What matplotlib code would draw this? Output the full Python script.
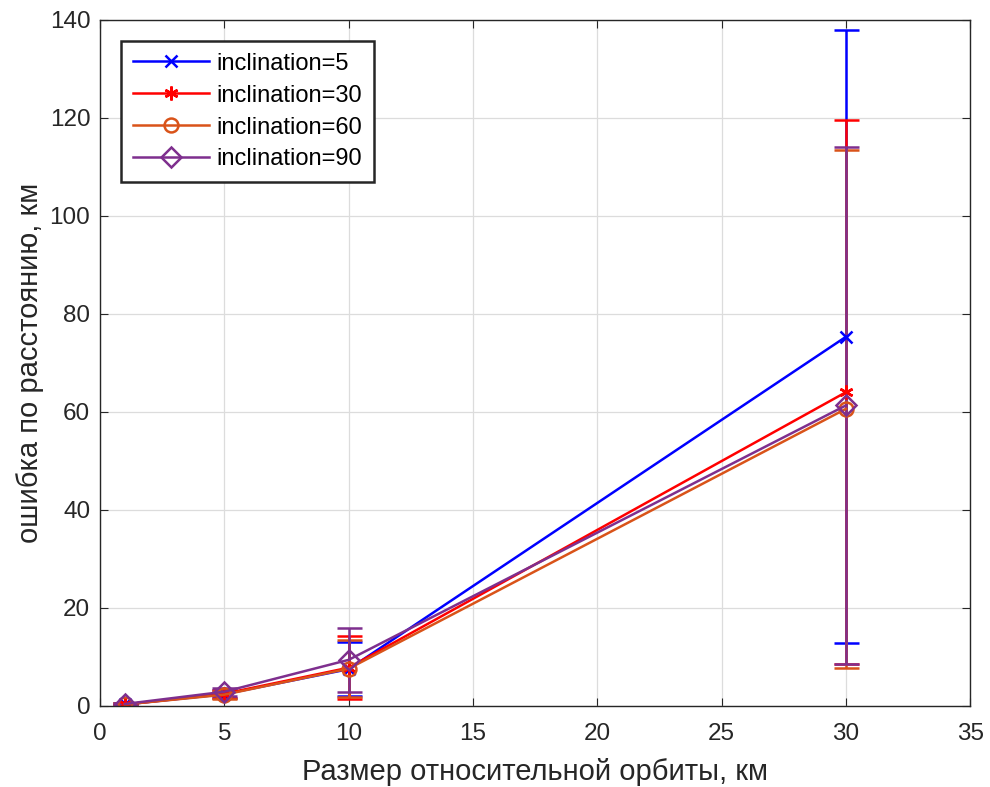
import numpy as np
import matplotlib.pyplot as plt
from matplotlib.lines import Line2D

plt.rcParams['font.family'] = ['Liberation Sans', 'DejaVu Sans']

# orbit size, km
sizes = [1, 5, 10, 30]

labels = ['inclination=5', 'inclination=30', 'inclination=60', 'inclination=90']
colors = ['#0000ff', '#ff0000', '#d95319', '#7e2f8e']
markers = ['x', (6, 2, 0), 'o', 'D']

# mean range error, km
mean_5 = [0.3, 2.4, 7.5, 75.3]
mean_30 = [0.3, 2.5, 7.8, 64.0]
mean_60 = [0.3, 2.3, 7.6, 60.6]
mean_90 = [0.4, 2.9, 9.4, 61.3]

# error bar half-width, km
err_5 = [0.2, 0.8, 5.5, 62.5]
err_30 = [0.2, 0.8, 6.4, 55.5]
err_60 = [0.2, 0.8, 5.8, 52.9]
err_90 = [0.2, 0.8, 6.6, 52.8]

means = [mean_5, mean_30, mean_60, mean_90]
errs = [err_5, err_30, err_60, err_90]

fig = plt.figure(figsize=(9.9, 7.87), dpi=100)
ax = fig.add_axes([0.101, 0.103, 0.879, 0.872])

handles = []
for m, e, c, mk, lab in zip(means, errs, colors, markers, labels):
    hollow = mk in ('o', 'D')
    ms = 10 if mk != 'x' else 9
    ax.errorbar(sizes, m, yerr=e, color=c, marker=mk, lw=1.8,
                capsize=9, capthick=1.8, elinewidth=1.8, markersize=ms,
                markerfacecolor='none' if hollow else c,
                markeredgewidth=1.8)
    handles.append(Line2D([], [], color=c, marker=mk, lw=1.8, markersize=ms,
                          markerfacecolor='none' if hollow else c,
                          markeredgewidth=1.8, label=lab))

ax.set_xlim(0, 35)
ax.set_ylim(0, 140)
ax.set_xticks(np.arange(0, 36, 5))
ax.set_yticks(np.arange(0, 141, 20))
ax.grid(True, color='#dcdcdc', lw=0.9)
ax.set_axisbelow(True)
ax.tick_params(direction='in', labelsize=17.5, length=6, colors='#262626',
               top=True, right=True)
ax.tick_params(axis='x', pad=12)
ax.tick_params(axis='y', pad=7)
for s in ax.spines.values():
    s.set_color('#262626')
    s.set_linewidth(1.0)

ax.set_xlabel('Размер относительной орбиты, км', fontsize=21, color='#262626',
              labelpad=10)
ax.set_ylabel('ошибка по расстоянию, км', fontsize=21, color='#262626',
              labelpad=4)

leg = ax.legend(handles=handles, loc='upper left', fontsize=17, fancybox=False,
                framealpha=1, edgecolor='#262626', handlelength=3.2,
                handletextpad=0.35, borderaxespad=0.9, labelspacing=0.42,
                borderpad=0.5)
leg.get_frame().set_linewidth(1.8)

fig.savefig('out.png', dpi=100)
